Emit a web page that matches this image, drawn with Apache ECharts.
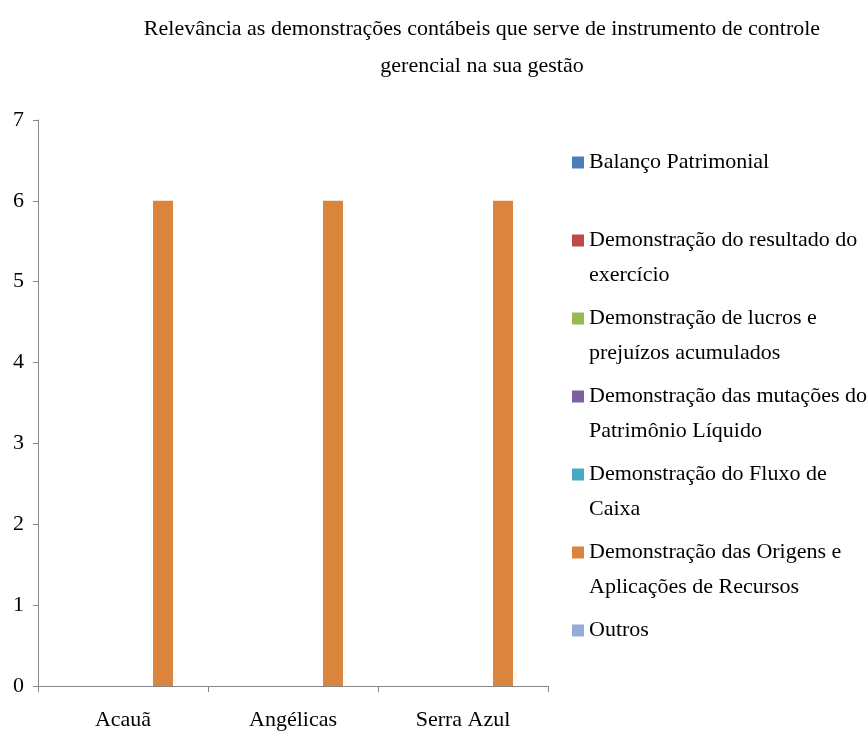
<!DOCTYPE html>
<html>
<head>
<meta charset="utf-8">
<script src="https://cdn.jsdelivr.net/npm/echarts@6/dist/echarts.min.js"></script>
<style>
html, body { margin: 0; padding: 0; background: #fff; }
#chart { width: 868px; height: 734px; }
</style>
</head>
<body>
<div id="chart"></div>
<script>
var categories = ['Acauã', 'Angélicas', 'Serra Azul'];
var seriesNames = [
    'Balanço Patrimonial',
    'Demonstração do resultado do exercício',
    'Demonstração de lucros e prejuízos acumulados',
    'Demonstração das mutações do Patrimônio Líquido',
    'Demonstração do Fluxo de Caixa',
    'Demonstração das Origens e Aplicações de Recursos',
    'Outros'
];
// how the legend wraps each name
var legendLabels = [
    'Balanço Patrimonial',
    'Demonstração do resultado do\nexercício',
    'Demonstração de lucros e\nprejuízos acumulados',
    'Demonstração das mutações do\nPatrimônio Líquido',
    'Demonstração do Fluxo de\nCaixa',
    'Demonstração das Origens e\nAplicações de Recursos',
    'Outros'
];
var balanco = [0, 0, 0];
var resultado = [0, 0, 0];
var lucros = [0, 0, 0];
var mutacoes = [0, 0, 0];
var fluxo = [0, 0, 0];
var origens = [6, 6, 6];
var outros = [0, 0, 0];
var seriesValues = [balanco, resultado, lucros, mutacoes, fluxo, origens, outros];
var colors = ['#4A7EBB', '#BE4B48', '#98B954', '#7D60A0', '#46AAC5', '#DB843D', '#95ADD6'];
var yTicks = [0, 7, 1];

var font = "'Liberation Serif', 'Times New Roman', serif";
var chart = echarts.init(document.getElementById('chart'));

var series = [];
var legendData = [];
seriesNames.forEach(function (name, i) {
    series.push({
        name: name,
        type: 'bar',
        data: seriesValues[i],
        barWidth: 20,
        barGap: '0%',
        itemStyle: { color: colors[i] },
        emphasis: { disabled: true }
    });
    var twoLines = legendLabels[i].indexOf('\n') >= 0;
    legendData.push(twoLines ? { name: name } : {
        name: name,
        textStyle: { padding: [35, 0, 35, 0] }
    });
});

var option = {
    backgroundColor: '#fff',
    animation: false,
    color: colors,
    title: {
        text: 'Relevância as demonstrações contábeis que serve de instrumento de controle\ngerencial na sua gestão',
        left: 482,
        top: 11,
        padding: 0,
        textAlign: 'center',
        textStyle: {
            fontFamily: font,
            fontSize: 22,
            fontWeight: 'normal',
            lineHeight: 37,
            color: '#000'
        }
    },
    legend: {
        orient: 'vertical',
        left: 572,
        top: 110,
        padding: 0,
        itemWidth: 12,
        itemHeight: 12,
        itemGap: -27,
        icon: 'rect',
        selectedMode: false,
        data: legendData,
        formatter: function (name) {
            var label = legendLabels[seriesNames.indexOf(name)];
            // empty first line so the swatch sits beside the first text line
            return label.indexOf('\n') >= 0 ? ' \n' + label : label;
        },
        textStyle: {
            fontFamily: font,
            fontSize: 22,
            lineHeight: 35,
            color: '#000',
            backgroundColor: 'rgba(0,0,0,0)'
        }
    },
    grid: {
        left: 38,
        right: 320,
        top: 120,
        bottom: 48,
        containLabel: false,
        outerBoundsMode: 'none'
    },
    xAxis: {
        type: 'category',
        data: categories,
        axisLine: { lineStyle: { color: '#868686', width: 1 } },
        axisTick: { show: true, length: 6, interval: 0, lineStyle: { color: '#868686' } },
        axisLabel: {
            fontFamily: font,
            fontSize: 22,
            color: '#000',
            margin: 23,
            interval: 0
        }
    },
    yAxis: {
        type: 'value',
        min: yTicks[0],
        max: yTicks[1],
        interval: yTicks[2],
        axisLine: { show: true, lineStyle: { color: '#868686', width: 1 } },
        axisTick: { show: true, length: 5, lineStyle: { color: '#868686' } },
        splitLine: { show: false },
        axisLabel: {
            fontFamily: font,
            fontSize: 22,
            color: '#000',
            margin: 14
        }
    },
    series: series
};
chart.setOption(option);
</script>
</body>
</html>
